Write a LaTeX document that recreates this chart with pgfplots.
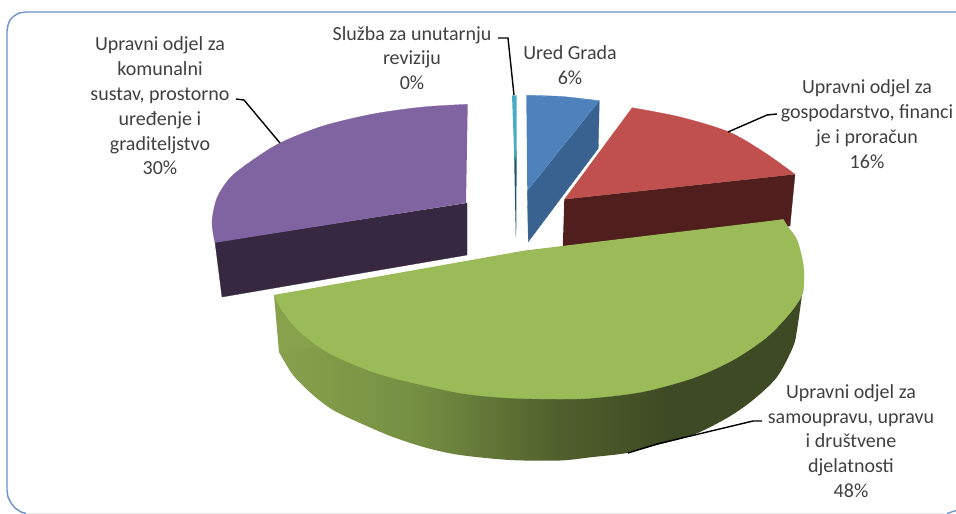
\documentclass[border=0pt]{standalone}
\usepackage{pgfplots}
\pgfplotsset{compat=1.18}
\usepackage{fontspec}
\setmainfont{Carlito}
\definecolor{bordc}{HTML}{6A92C8}
\definecolor{txt}{HTML}{404040}
\definecolor{blueT}{HTML}{4F81BD}
\definecolor{blueS}{HTML}{3A6290}
\definecolor{tealT}{HTML}{4BACC6}
\definecolor{tealS}{HTML}{205867}
\definecolor{redT}{HTML}{C0504D}
\definecolor{redS}{HTML}{4F1E1D}
\definecolor{greenT}{HTML}{9BBB59}
\definecolor{greenL}{HTML}{87A14C}
\definecolor{purpT}{HTML}{8064A2}
\definecolor{purpS}{HTML}{352840}
\pgfdeclarehorizontalshading{greenside}{100bp}{
  rgb(0bp)=(0.53,0.63,0.30);
  rgb(25bp)=(0.53,0.63,0.30);
  rgb(38bp)=(0.46,0.56,0.26);
  rgb(52bp)=(0.31,0.37,0.17);
  rgb(62bp)=(0.245,0.29,0.14);
  rgb(75bp)=(0.245,0.29,0.14);
  rgb(100bp)=(0.245,0.29,0.14)}
\tikzset{lab/.style={font=\fontsize{20}{24.8}\selectfont, text=txt, align=center, inner sep=0pt}}
\begin{document}
\begin{tikzpicture}
\begin{axis}[
  hide axis, scale only axis, width=956pt, height=514pt,
  xmin=0, xmax=956, ymin=0, ymax=514, y dir=reverse, clip=true
]
\path (axis cs:0,0) rectangle (axis cs:956,514);
% frame
\addplot[draw=bordc, line width=1.4pt, line join=round] coordinates {
 (956,12)(26,12)(19,13)(14,16)(10,20)(8,25)(7,31)(7,490)(8,497)(11,503)(15,508)(21,512)(26,513.5)};
\addplot[draw=black!10, line width=0.8pt] coordinates {(26,513.4)(944,513.4)};
\addplot[draw=bordc, line width=1.4pt] coordinates {(947,513.5)(956,510.5)};
% purple
\addplot[fill=purpS, draw=purpS, line width=0.3pt] coordinates {
 (215,242)(222,297)(467,255)(467,203)};
\addplot[fill=purpT, draw=none] coordinates {
 (467.7,104.3)(300,170)(215,242.7)(466,203)};
\addplot[fill=purpT, draw=purpT, line width=0.3pt, smooth] coordinates {
 (467.7,104.3)(423,107)(373,114)(323,126)(280,143)(250,162)(230,178)(217,198)(212,222)(215,242.7)};
% teal
\addplot[fill=tealS, draw=none] coordinates {(514,150)(516.7,150)(516.2,237)(515.8,237)};
\addplot[fill=tealT, draw=none] coordinates {(512,95.3)(516.7,95.3)(516.7,150)(514.6,165)};
% blue
\addplot[fill=blueS, draw=blueS, line width=0.3pt] coordinates {
 (599.3,100.7)(598.3,148.3)(528.3,241.7)(527.3,190.7)};
\addplot[fill=blueT, draw=none] coordinates {
 (526.3,95.3)(562,97.5)(599.3,100.7)(527.3,190.7)};
\addplot[fill=blueT, draw=blueT, line width=0.3pt, smooth] coordinates {
 (526.3,95.3)(562,96.5)(599.3,100.7)};
% red
\addplot[fill=redS, draw=redS, line width=0.3pt] coordinates {
 (564.3,199.3)(795,174.3)(790,226)(562.7,250)};
\addplot[fill=redT, draw=none] coordinates {
 (632,107.7)(720,136)(795,174.3)(564.3,199.3)};
\addplot[fill=redT, draw=redT, line width=0.3pt, smooth] coordinates {
 (632,107.7)(680,117)(728.3,131.7)(763.3,151.7)(795,174.3)};
% green side
\addplot[fill=greenL, draw=none] coordinates {(274,295)(279,352)(340,350)(340,310)};
\addplot[shade, shading=greenside, draw=none, smooth] coordinates {
 (804,280)(802,295)(797,330)(793,347)(777,377)(753,400)(727,418)(693,435)(657,445)(627,453)(593,457)(560,460.5)(510,460)(460,455)(427,448)(393,437)(360,423)(333,410)(313,395)(293,375)(279,352)};
% green top
\addplot[fill=greenT, draw=none] coordinates {
 (274,295)(525,250.5)(783.3,219.3)(600,320)};
\addplot[fill=greenT, draw=greenT, line width=0.3pt, smooth] coordinates {
 (783.3,219.3)(788,227)(797,240)(803,263)(804,280)(802,295)(790,313)(767,337)(733,360)(693,378)(643,391.7)(593,398)(560,399)(510,398)(460,393)(393,378)(360,367)(327,352)(300,332)(283,312)(274,295)};
% leaders
\addplot[draw=black, line width=1.4pt] coordinates {(498,38)(508,38)(514,95)};
\addplot[draw=black, line width=1.4pt] coordinates {(777,114)(767,115)(728,132)};
\addplot[draw=black, line width=1.4pt] coordinates {(236,99)(244,100)(280,143)};
\addplot[draw=black, line width=1.4pt] coordinates {(762,421)(753,421)(657,444)(628,453)};
% labels
\node[lab] at (axis cs:160,106) {Upravni odjel za\\komunalni\\sustav, prostorno\\uređenje i\\graditeljstvo\\30\%};
\node[lab] at (axis cs:412,58) {Služba za unutarnju\\reviziju\\0\%};
\node[lab] at (axis cs:570,65) {Ured Grada\\6\%};
\node[lab] at (axis cs:867,124) {Upravni odjel za\\gospodarstvo, financi\\je i proračun\\16\%};
\node[lab] at (axis cs:851,441) {Upravni odjel za\\samoupravu, upravu\\i društvene\\djelatnosti\\48\%};
\end{axis}
\end{tikzpicture}
\end{document}
